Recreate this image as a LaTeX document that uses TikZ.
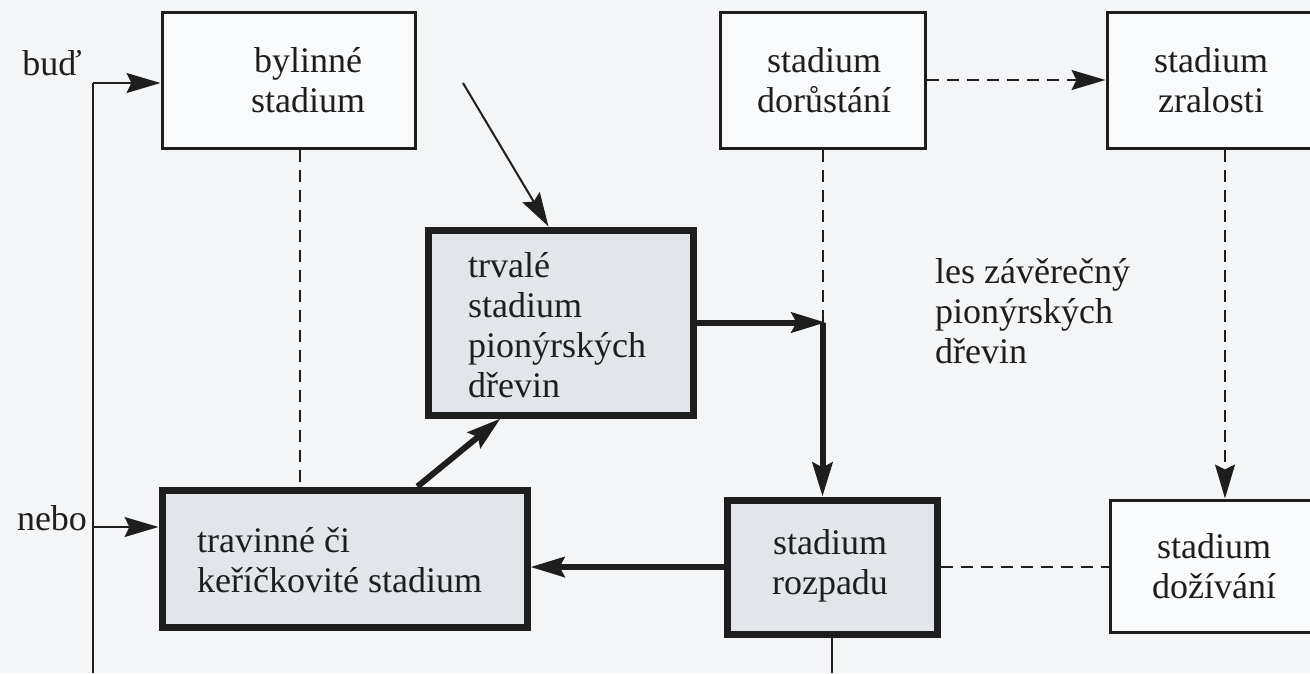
\documentclass[tikz,border=0pt]{standalone}
\usepackage{fontspec}
\setmainfont{Liberation Serif}
\usetikzlibrary{arrows.meta}
\definecolor{paper}{HTML}{F3F5F7}
\definecolor{shade}{HTML}{E2E6EB}
\definecolor{ink}{HTML}{1E1E1E}
\begin{document}
\begin{tikzpicture}[x=1pt,y=-1pt,
  font=\fontsize{36}{40}\selectfont,
  thinbox/.style={draw=ink, line width=3pt, fill=white!50!paper, inner sep=0pt},
  thickbox/.style={draw=ink, line width=7pt, fill=shade, inner sep=0pt},
  txt/.style={text=ink, inner sep=0pt, align=center},
  ltxt/.style={text=ink, inner sep=0pt, align=left, anchor=west},
  tip/.style={-{Stealth[length=34pt,width=20pt,inset=5pt]}},
  thinline/.style={draw=ink, line width=2pt},
  dashline/.style={draw=ink, line width=2pt, dash pattern=on 12pt off 8pt},
  heavyline/.style={draw=ink, line width=6pt},
]
\fill[paper] (0,0) rectangle (1310,673);
\useasboundingbox (0,0) rectangle (1310,673);

% boxes
\node[thinbox, minimum width=253pt, minimum height=136pt] (byl) at (288.5,80) {};
\node[thinbox, minimum width=205pt, minimum height=136pt] (dor) at (822.5,80) {};
\node[thinbox, minimum width=208pt, minimum height=136pt] (zral) at (1211,80) {};
\node[thickbox, minimum width=265pt, minimum height=185pt] (trv) at (560.5,322.5) {};
\node[thickbox, minimum width=365pt, minimum height=137pt] (trav) at (344.5,558.5) {};
\node[thickbox, minimum width=210pt, minimum height=134pt] (rozp) at (832,567) {};
\node[thinbox, minimum width=208pt, minimum height=132pt] (dozi) at (1214,566) {};

% box texts
\node[txt] (byl-t) at (308,80) {bylinné\\stadium};
\node[txt] (dor-t) at (824,80) {stadium\\dorůstání};
\node[txt] (zral-t) at (1211,80) {stadium\\zralosti};
\node[ltxt] (trv-t) at (468,325) {trvalé\\stadium\\pionýrských\\dřevin};
\node[ltxt] (trav-t) at (197,560) {travinné či\\keříčkovité stadium};
\node[txt] (rozp-t) at (830,566) {stadium\\rozpadu};
\node[txt] (dozi-t) at (1214,566) {stadium\\dožívání};

% free labels
\node[ltxt] (les) at (935,311) {les závěrečný\\pionýrských\\dřevin};
\node[txt] (bud) at (52,63) {buď};
\node[txt] (nebo) at (52,518) {nebo};

% helper points
\coordinate (leftbot) at (93,673);
\coordinate (budcorner) at (93,83);
\coordinate (nebojoin) at (93,527);
\coordinate (bystart) at (463,83);
\coordinate (junc) at (dor.south |- trv.east);
\coordinate (rozbot) at (rozp.south |- leftbot);

% left feed lines
\draw[thinline] (leftbot) -- (budcorner);
\draw[thinline, tip] (budcorner) -- (budcorner -| byl.west);
\draw[thinline, tip] (nebojoin) -- (nebojoin -| trav.west);

% dashed links
\draw[dashline] ([xshift=11.5pt]byl.south) -- ([xshift=11.5pt]byl.south |- trav.north);
\draw[dashline, tip] (dor.east) -- (dor.east -| zral.west);
\draw[dashline] (dor.south) -- (junc);
\draw[dashline, tip] ([xshift=14pt]zral.south) -- ([xshift=14pt]zral.south |- dozi.north);
\draw[dashline] (rozp.east) -- (rozp.east -| dozi.west);

% succession arrows
\draw[thinline, tip] (bystart) -- ([xshift=-12pt]trv.north);
\draw[heavyline, tip] ([xshift=73pt]trav.north) -- ([xshift=-60pt]trv.south);
\draw[heavyline, tip] (trv.east) -- ([xshift=3pt]junc);
\draw[heavyline, tip] (junc) -- (junc |- rozp.north);
\draw[heavyline, tip] (rozp.west) -- (rozp.west -| trav.east);
\draw[thinline] (rozp.south) -- (rozbot);
\end{tikzpicture}
\end{document}
